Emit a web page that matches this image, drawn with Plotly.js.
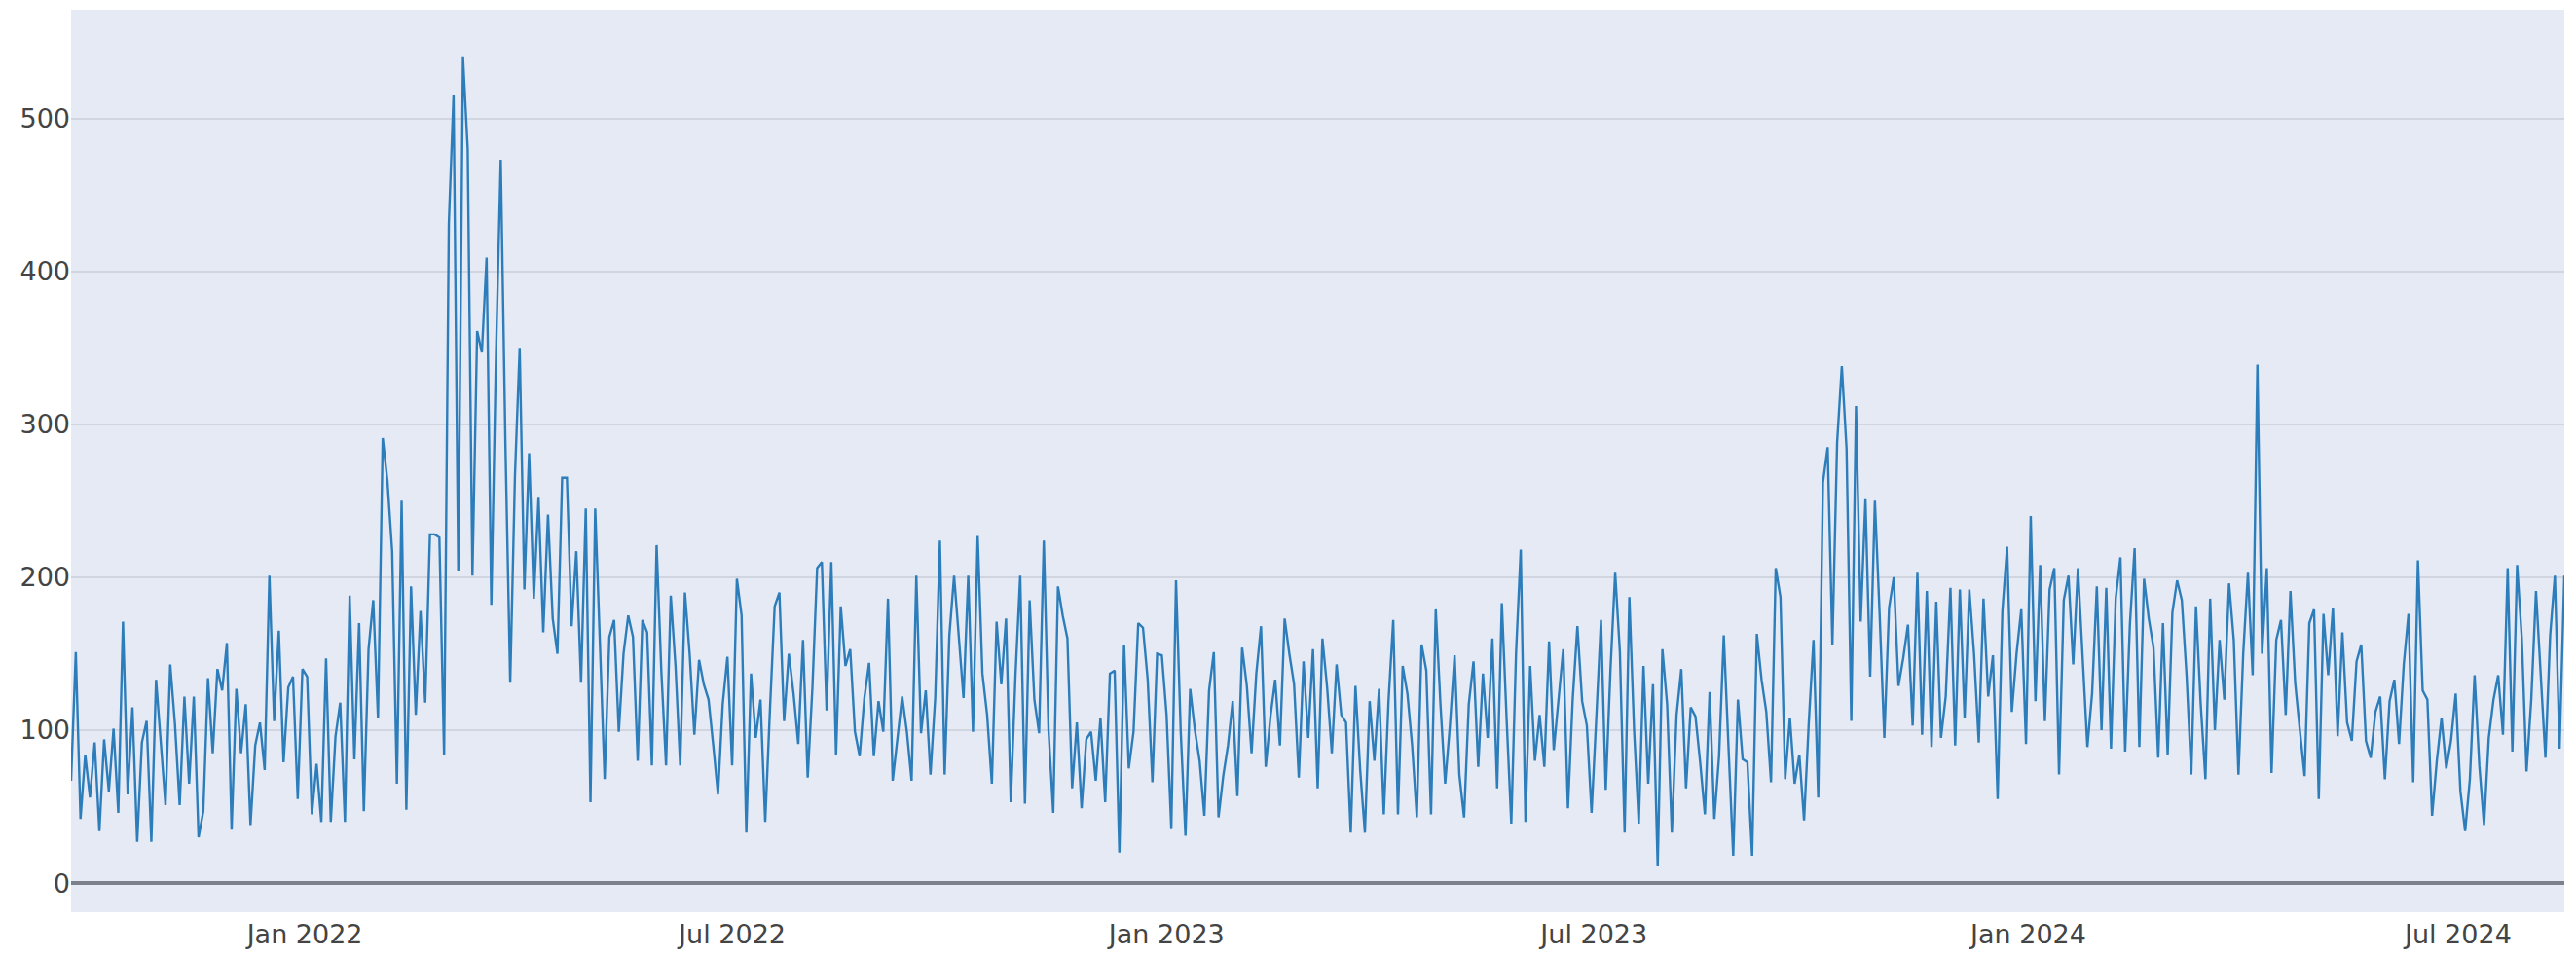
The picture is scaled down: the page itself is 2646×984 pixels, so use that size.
<!DOCTYPE html>
<html>
<head>
<meta charset="utf-8">
<script src="https://cdn.plot.ly/plotly-3.0.1.min.js"></script>
<style>html,body{margin:0;padding:0;background:#fff;}#chart{width:2646px;height:984px;}</style>
</head>
<body>
<div id="chart"></div>
<script>
// Series sampled every 2 days starting at startDate
const startDate = '2021-09-24';
const stepDays = 2;
const values = [
 67,151,42,84,56,92,34,94,60,101,
 46,171,58,115,27,92,106,27,133,91,
 51,143,104,51,122,65,122,30,47,134,
 85,140,126,157,35,127,85,117,38,90,
 105,74,201,106,165,79,128,135,55,140,
 135,45,78,40,147,40,96,118,40,188,
 81,170,47,153,185,108,291,263,217,65,
 250,48,194,110,178,118,228,228,226,84,
 431,515,204,540,480,201,361,347,409,182,
 347,473,285,131,266,350,192,281,186,252,
 164,241,173,150,265,265,168,217,131,245,
 53,245,150,68,161,172,99,150,175,161,
 80,172,164,77,221,139,77,188,142,77,
 190,150,97,146,130,120,90,58,117,148,
 77,199,175,33,137,95,120,40,113,181,
 190,106,150,124,91,159,69,128,206,210,
 113,210,84,181,142,153,99,83,121,144,
 83,119,99,186,67,95,122,99,67,201,
 98,126,71,121,224,71,162,201,160,121,
 201,99,227,137,110,65,171,130,173,53,
 136,201,52,185,120,98,224,100,46,194,
 175,160,62,105,49,94,99,67,108,53,
 137,139,20,156,75,99,170,167,133,66,
 150,149,110,36,198,99,31,127,100,80,
 44,126,151,43,70,90,119,57,154,129,
 85,137,168,76,109,133,90,173,150,130,
 69,145,95,153,62,160,128,85,143,110,
 105,33,129,74,33,119,80,127,45,119,
 172,45,142,124,90,43,156,139,45,179,
 117,65,103,149,71,43,117,145,76,137,
 95,160,62,183,108,39,150,218,40,142,
 80,110,76,158,87,120,153,49,120,168,
 119,103,46,108,172,61,139,203,151,33,
 187,100,39,142,65,130,11,153,117,33,
 110,140,62,115,109,79,45,125,42,83,
 162,89,18,120,81,79,18,163,133,112,
 66,206,187,68,108,65,84,41,105,159,
 56,262,285,156,288,338,284,106,312,171,
 251,135,250,176,95,180,200,129,147,169,
 103,203,97,191,89,184,95,122,193,90,
 192,108,192,150,92,186,122,149,55,178,
 220,112,150,179,91,240,119,208,106,192,
 206,71,185,201,143,206,150,89,124,194,
 100,193,88,186,213,86,169,219,89,199,
 173,154,82,170,84,177,198,185,136,71,
 181,117,68,186,100,159,120,196,159,71,
 150,203,136,339,150,206,72,159,172,110,
 191,131,100,70,170,179,55,176,136,180,
 96,164,105,93,145,156,93,82,112,122,
 68,119,133,91,143,176,66,211,126,120,
 44,80,108,75,93,124,60,34,68,136,
 77,38,95,120,136,97,206,86,208,160,
 73,120,191,138,82,162,201,88,201
];
const xRange = ['2021-09-24', '2024-08-15'];
const yRange = [-19, 571];
const yTicks = [0, 100, 200, 300, 400, 500];

const t0 = Date.parse(startDate + 'T00:00:00Z');
const dates = values.map((v, i) => new Date(t0 + i * stepDays * 86400000).toISOString().slice(0, 10));

const trace = {
  type: 'scatter',
  mode: 'lines',
  x: dates,
  y: values,
  line: {color: '#2d7dbb', width: 2.4},
  hoverinfo: 'x+y'
};

const layout = {
  width: 2646,
  height: 984,
  margin: {l: 73, r: 12, t: 10, b: 47, pad: 0},
  paper_bgcolor: '#ffffff',
  plot_bgcolor: '#e5eaf5',
  font: {family: 'DejaVu Sans, Verdana, sans-serif', size: 27, color: '#444444'},
  showlegend: false,
  xaxis: {
    type: 'date',
    range: xRange,
    showgrid: false,
    zeroline: false,
    showline: false,
    ticks: '',
    dtick: 'M6',
    tick0: '2022-01-01',
    tickformat: '%b %Y',
    ticklabelstandoff: 4,
    tickfont: {size: 27, color: '#444444'}
  },
  yaxis: {
    range: yRange,
    tickvals: yTicks,
    showgrid: true,
    gridcolor: '#d0d5df',
    gridwidth: 2,
    zeroline: true,
    zerolinecolor: '#7d818c',
    zerolinewidth: 4,
    showline: false,
    ticks: '',
    tickfont: {size: 27, color: '#444444'}
  }
};

Plotly.newPlot('chart', [trace], layout, {displayModeBar: false, staticPlot: true});
</script>
</body>
</html>
